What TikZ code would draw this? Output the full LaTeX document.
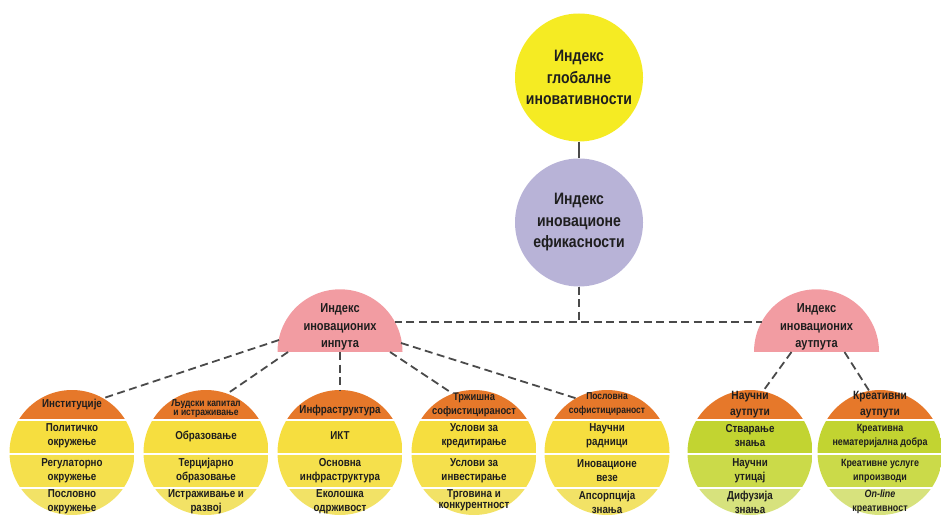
\documentclass[tikz,border=0pt]{standalone}
\usepackage{fontspec}
\setmainfont{Liberation Sans}[FakeStretch=0.85]
\usetikzlibrary{calc,shapes.geometric}
\definecolor{gyel}{HTML}{F5EB23}
\definecolor{lav}{HTML}{B8B3D7}
\definecolor{pinkc}{HTML}{F29CA2}
\definecolor{orng}{HTML}{E6782A}
\definecolor{bandy1}{HTML}{F6DE3F}
\definecolor{bandy2}{HTML}{F5E04C}
\definecolor{bandy3}{HTML}{F2E266}
\definecolor{bandg1}{HTML}{C2D431}
\definecolor{bandg2}{HTML}{CBDA49}
\definecolor{bandg3}{HTML}{D7E27D}
\definecolor{ink}{HTML}{1E1E1E}
\definecolor{lnkc}{HTML}{4A4A4A}
\tikzset{
  topc/.style={circle,minimum size=128pt,inner sep=0pt,align=center,text=ink,
    font=\bfseries\fontsize{16.5}{21.5}\selectfont},
  dome/.style={semicircle,fill=pinkc,minimum width=125pt,inner sep=0pt,align=center,text=ink,
    font=\bfseries\fontsize{13}{17.5}\selectfont},
  pil/.style={circle,minimum size=125pt,inner sep=0pt},
  hd/.style={align=center,text=ink,inner sep=0pt,font=\bfseries\fontsize{11.5}{14}\selectfont},
  bd/.style={align=center,text=ink,inner sep=0pt,font=\bfseries\fontsize{11.5}{14}\selectfont},
  lnk/.style={draw=lnkc,line width=1.8pt},
  dsh/.style={draw=lnkc,line width=1.8pt,dash pattern=on 8pt off 4.5pt},
}
\begin{document}
\begin{tikzpicture}[x=1pt,y=-1pt]
\useasboundingbox (0,0) rectangle (941,518);
% the two top indices
\node[topc,fill=gyel] (gii) at (579,77.5) {Индекс\\глобалне\\иновативности};
\node[topc,fill=lav] (eff) at (579,222.5) {Индекс\\иновационе\\ефикасности};
\draw[lnk] (gii) -- (eff);
% sub-indices
\node[dome,anchor=chord center] (inp) at (340,352) {Индекс\\иновационих\\инпута};
\node[dome,anchor=chord center] (out) at (816.5,352) {Индекс\\иновационих\\аутпута};
\coordinate (inpE) at ($(inp.chord center)+(55,-30)$);
\coordinate (outW) at ($(out.chord center)+(-55,-30)$);
\draw[dsh] (eff.south) |- (inpE);
\draw[dsh] (eff.south) |- (outW);
% pillars, each cut into a header and three bands
\foreach \x/\n/\fam in {72/1/y, 206/2/y, 340/3/y, 474/4/y, 607/5/y, 750/6/g, 880/7/g} {
  \node[pil] (p\n) at (\x,452.5) {};
  \begin{scope}
    \clip (p\n.center) circle[radius=62.5pt];
    \fill[orng] (\x-63,388) rectangle (\x+63,419);
    \fill[band\fam1] (\x-63,421) rectangle (\x+63,453);
    \fill[band\fam2] (\x-63,455) rectangle (\x+63,487);
    \fill[band\fam3] (\x-63,489) rectangle (\x+63,520);
  \end{scope}
}
\draw[dsh] ($(inp.chord center)+(-61,-12)$) -- (p1.60);
\draw[dsh] ($(inp.chord center)+(-52,0)$) -- (p2.70);
\draw[dsh] (inp.chord center) -- (p3.north);
\draw[dsh] ($(inp.chord center)+(50,0)$) -- (p4.110);
\draw[dsh] ($(inp.chord center)+(61,-9)$) -- (p5.120);
\draw[dsh] ($(out.chord center)+(-25,0)$) -- (p6.78);
\draw[dsh] ($(out.chord center)+(28,0)$) -- (p7.100);
% texts of the pillars
\node[hd] (h1) at (72,405) {Институције};
\node[bd] (s1a) at (72,436) {Политичко\\окружење};
\node[bd] (s1b) at (72,470.5) {Регулаторно\\окружење};
\node[bd] (s1c) at (72,502) {Пословно\\окружење};
\node[hd,font=\bfseries\fontsize{10}{9}\selectfont] (h2) at (206,409) {Људски капитал\\и истраживање};
\node[bd] (s2a) at (206,436) {Образовање};
\node[bd] (s2b) at (206,470.5) {Терцијарно\\образовање};
\node[bd] (s2c) at (206,502) {Истраживање и\\развој};
\node[hd] (h3) at (340,411) {Инфраструктура};
\node[bd] (s3a) at (340,436) {ИКТ};
\node[bd] (s3b) at (340,470.5) {Основна\\инфраструктура};
\node[bd] (s3c) at (340,502) {Еколошка\\одрживост};
\node[hd,font=\bfseries\fontsize{11}{14}\selectfont] (h4) at (474,405) {Тржишна\\софистицираност};
\node[bd] (s4a) at (474,436) {Услови за\\кредитирање};
\node[bd] (s4b) at (474,470.5) {Услови за\\инвестирање};
\node[bd,font=\bfseries\fontsize{11.5}{10.5}\selectfont] (s4c) at (474,500) {Трговина и\\конкурентност};
\node[hd,font=\bfseries\fontsize{10}{14}\selectfont] (h5) at (607,404) {Пословна\\софистицираност};
\node[bd] (s5a) at (607,436) {Научни\\радници};
\node[bd] (s5b) at (607,470.5) {Иновационе\\везе};
\node[bd] (s5c) at (607,502) {Апсорпција\\знања};
\node[hd,font=\bfseries\fontsize{12}{16}\selectfont] (h6) at (750,405) {Научни\\аутпути};
\node[bd] (s6a) at (750,436) {Стварање\\знања};
\node[bd] (s6b) at (750,470.5) {Научни\\утицај};
\node[bd] (s6c) at (750,502) {Дифузија\\знања};
\node[hd,font=\bfseries\fontsize{12}{16}\selectfont] (h7) at (880,405) {Креативни\\аутпути};
\node[bd,font=\bfseries\fontsize{10.5}{14}\selectfont] (s7a) at (880,436) {Креативна\\нематеријална добра};
\node[bd,font=\bfseries\fontsize{10.5}{14}\selectfont] (s7b) at (880,470.5) {Креативне услуге\\ипроизводи};
\node[bd,font=\bfseries\fontsize{10.5}{14}\selectfont] (s7c) at (880,502) {\textit{On-line}\\креативност};
\end{tikzpicture}
\end{document}
